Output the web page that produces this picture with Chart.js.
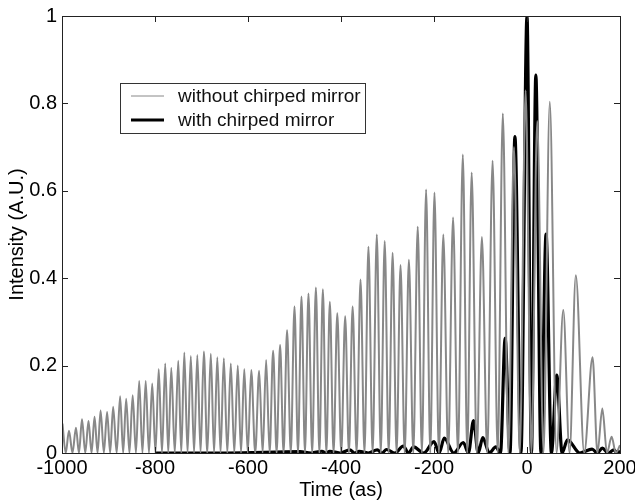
<!DOCTYPE html>
<html>
<head>
<meta charset="utf-8">
<script src="https://cdn.jsdelivr.net/npm/chart.js@4.4.1/dist/chart.umd.min.js"></script>
<style>
  html, body { margin: 0; padding: 0; background: #fff; }
  #wrap { width: 635px; height: 502px; }
</style>
</head>
<body>
<div id="wrap"><canvas id="pulseChart" width="635" height="502"></canvas></div>
<script>
// peaks of the gray trace (without chirped mirror)
const grayPeakTimes = [
  -999, -985, -970, -957, -943, -930, -917, -903, -890, -875,
  -862, -848, -834, -820, -806, -792, -778, -765, -750, -737,
  -723, -709, -695, -680, -666, -652, -637, -622, -608, -593,
  -576, -561, -546, -531, -516, -500, -485, -470, -454, -439,
  -424, -408, -391, -375, -358, -341, -323, -306, -289, -272,
  -254, -235, -217, -199, -180, -159, -138, -119, -97, -74,
  -52, -28, -3, 22, 49, 78, 105, 141, 162, 182, 200
];
const grayPeakValues = [
  0.067, 0.051, 0.058, 0.077, 0.073, 0.083, 0.097, 0.094, 0.106, 0.130,
  0.124, 0.132, 0.165, 0.165, 0.159, 0.192, 0.205, 0.195, 0.211, 0.230,
  0.222, 0.224, 0.232, 0.227, 0.219, 0.217, 0.205, 0.200, 0.192, 0.190,
  0.188, 0.213, 0.234, 0.247, 0.281, 0.335, 0.358, 0.365, 0.379, 0.375,
  0.346, 0.320, 0.313, 0.335, 0.397, 0.472, 0.500, 0.485, 0.458, 0.430,
  0.442, 0.518, 0.603, 0.596, 0.500, 0.539, 0.683, 0.642, 0.494, 0.669,
  0.777, 0.700, 0.830, 0.760, 0.804, 0.327, 0.407, 0.219, 0.102, 0.037, 0.018
];

// peaks of the black trace (with chirped mirror)
const blackPeakTimes = [
  -800, -488, -441, -424, -381, -361, -322, -302, -266, -244,
  -200, -178, -137, -115, -95, -67, -47, -26, 0, 19,
  41, 64, 87, 140, 162, 187, 200
];
const blackPeakValues = [
  0, 0.003, 0.004, 0.004, 0.007, 0.004, 0.007, 0.008, 0.016, 0.014,
  0.026, 0.034, 0.024, 0.074, 0.035, 0.014, 0.263, 0.724, 1.0, 0.865,
  0.501, 0.178, 0.030, 0.009, 0.011, 0.007, 0.005
];

// both traces drop to zero between neighbouring peaks
const troughLevel = 0;

const xTicks = [-1000, -800, -600, -400, -200, 0, 200];
const yTicks = [0, 0.2, 0.4, 0.6, 0.8, 1];
const yTickLabels = ['0', '0.2', '0.4', '0.6', '0.8', '1'];
const legendLabels = ['without chirped mirror', 'with chirped mirror'];

const FONT = '"Liberation Sans", Arial, Helvetica, sans-serif';

function buildSeries(times, values) {
    const pts = [];
    for (let i = 0; i < times.length; i++) {
        pts.push({ x: times[i], y: values[i] });
        if (i < times.length - 1) {
            pts.push({ x: (times[i] + times[i + 1]) / 2, y: troughLevel });
        }
    }
    return pts;
}

// box + inward ticks, matlab style
const framePlugin = {
    id: 'frame',
    afterDatasetsDraw(chart) {
        const { ctx, chartArea: a, scales } = chart;
        const len = 6;
        ctx.save();
        ctx.strokeStyle = '#222';
        ctx.lineWidth = 1;
        ctx.beginPath();
        xTicks.forEach(v => {
            const px = Math.round(scales.x.getPixelForValue(v)) + 0.5;
            ctx.moveTo(px, a.bottom); ctx.lineTo(px, a.bottom - len);
            ctx.moveTo(px, a.top); ctx.lineTo(px, a.top + len);
        });
        yTicks.forEach(v => {
            const py = Math.round(scales.y.getPixelForValue(v)) + 0.5;
            ctx.moveTo(a.left, py); ctx.lineTo(a.left + len, py);
            ctx.moveTo(a.right, py); ctx.lineTo(a.right - len, py);
        });
        ctx.stroke();
        ctx.strokeRect(Math.round(a.left) + 0.5, Math.round(a.top) + 0.5,
                       Math.round(a.right - a.left), Math.round(a.bottom - a.top));
        ctx.restore();
    }
};

// boxed legend in the upper left of the plot
const legendPlugin = {
    id: 'boxLegend',
    afterDraw(chart) {
        const ctx = chart.ctx;
        const x0 = 120, y0 = 83, w = 245, h = 50;
        ctx.save();
        ctx.fillStyle = '#fff';
        ctx.fillRect(x0, y0, w, h);
        ctx.strokeStyle = '#333';
        ctx.lineWidth = 1;
        ctx.strokeRect(x0 + 0.5, y0 + 0.5, w, h);
        const rows = [96, 120];
        const widths = [1, 3];
        chart.data.datasets.forEach((ds, i) => {
            ctx.strokeStyle = ds.borderColor;
            ctx.lineWidth = widths[i];
            ctx.beginPath();
            ctx.moveTo(131, rows[i]); ctx.lineTo(164, rows[i]);
            ctx.stroke();
            ctx.fillStyle = '#111';
            ctx.font = '19px ' + FONT;
            ctx.textBaseline = 'middle';
            ctx.fillText(legendLabels[i], 178, rows[i] + 1);
        });
        ctx.restore();
    }
};

document.addEventListener('DOMContentLoaded', () => {
    const ctx = document.getElementById('pulseChart').getContext('2d');

    new Chart(ctx, {
        type: 'line',
        data: {
            datasets: [{
                label: legendLabels[0],
                data: buildSeries(grayPeakTimes, grayPeakValues),
                borderColor: '#888888',
                borderWidth: 2,
                pointRadius: 0,
                cubicInterpolationMode: 'monotone',
                fill: false
            }, {
                label: legendLabels[1],
                data: buildSeries(blackPeakTimes, blackPeakValues),
                borderColor: '#000',
                borderWidth: 3.2,
                pointRadius: 0,
                cubicInterpolationMode: 'monotone',
                fill: false
            }]
        },
        options: {
            responsive: false,
            animation: false,
            layout: { padding: { top: 16, right: 15, left: 0, bottom: 0 } },
            plugins: { legend: { display: false }, tooltip: { enabled: false } },
            scales: {
                x: {
                    type: 'linear',
                    min: -1000, max: 200,
                    afterBuildTicks: s => { s.ticks = xTicks.map(v => ({ value: v })); },
                    afterFit: s => { s.height = 49; s.paddingLeft = 0; s.paddingRight = 0; },
                    grid: { display: false, drawTicks: false },
                    border: { display: false },
                    ticks: {
                        color: '#000', font: { family: FONT, size: 20 }, padding: 3, maxRotation: 0,
                        callback: v => String(v)
                    },
                    title: { display: true, text: 'Time (as)', color: '#000', font: { family: FONT, size: 20 }, padding: { top: 0, bottom: 0 } }
                },
                y: {
                    min: 0, max: 1,
                    afterBuildTicks: s => { s.ticks = yTicks.map(v => ({ value: v })); },
                    afterFit: s => { s.width = 62; s.paddingTop = 0; s.paddingBottom = 0; },
                    grid: { display: false, drawTicks: false },
                    border: { display: false },
                    ticks: {
                        color: '#000', font: { family: FONT, size: 20 }, padding: 5,
                        callback: (v) => yTickLabels[yTicks.indexOf(v)]
                    },
                    title: { display: true, text: 'Intensity (A.U.)', color: '#000', font: { family: FONT, size: 20 }, padding: { top: 5, bottom: 0 } }
                }
            }
        },
        plugins: [framePlugin, legendPlugin]
    });
});
</script>
</body>
</html>
